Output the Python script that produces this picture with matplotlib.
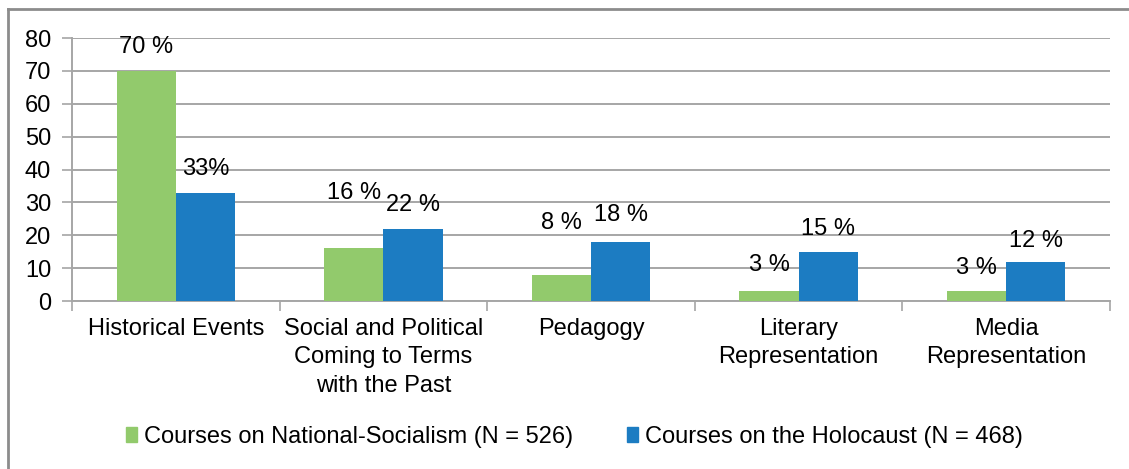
import matplotlib.pyplot as plt
from matplotlib.lines import Line2D
from matplotlib.patches import Patch
import numpy as np

plt.rcParams["font.family"] = ["Liberation Sans", "DejaVu Sans"]

categories = [
    "Historical Events",
    "Social and Political\nComing to Terms\nwith the Past",
    "Pedagogy",
    "Literary\nRepresentation",
    "Media\nRepresentation",
]
ns_values = [70, 16, 8, 3, 3]
holo_values = [33, 22, 18, 15, 12]
ns_labels = ["70 %", "16 %", "8 %", "3 %", "3 %"]
holo_labels = ["33%", "22 %", "18 %", "15 %", "12 %"]
ns_name = "Courses on National-Socialism (N = 526)"
holo_name = "Courses on the Holocaust (N = 468)"

# label offsets above bar top, in pixels (hand-placed in the original)
ns_off = [24, 55, 52, 26, 23]
holo_off = [24, 24, 27, 23, 21]

GREEN = "#92CA6C"
BLUE = "#1C7CC2"
GRID = "#A6A6A6"
FS = 17

fig = plt.figure(figsize=(11.29, 4.69), dpi=100)
ax = fig.add_axes([72 / 1129, 1 - 301 / 469, 1038 / 1129, 263 / 469])

x = np.arange(len(categories))
w = 0.285
ax.bar(x - w / 2, ns_values, w, color=GREEN, zorder=3)
ax.bar(x + w / 2, holo_values, w, color=BLUE, zorder=3)

for i in range(len(categories)):
    ax.annotate(ns_labels[i], (x[i] - w / 2, ns_values[i]), xytext=(0, ns_off[i]),
                textcoords="offset pixels", ha="center", va="center", fontsize=FS)
    ax.annotate(holo_labels[i], (x[i] + w / 2, holo_values[i]), xytext=(0, holo_off[i]),
                textcoords="offset pixels", ha="center", va="center", fontsize=FS)

ax.set_xlim(-0.5, len(categories) - 0.5)
ax.set_ylim(0, 80)
ax.set_yticks(range(0, 81, 10))
ax.yaxis.grid(True, color=GRID, linewidth=1.4, zorder=0)
ax.set_axisbelow(True)

ax.set_xticks(x)
ax.set_xticklabels(categories, fontsize=FS, linespacing=1.4)
ax.tick_params(axis="x", length=0, pad=12)
ax.set_xticks(np.arange(-0.5, len(categories)), minor=True)
ax.tick_params(axis="x", which="minor", length=7, color=GRID, width=1.2)
ax.tick_params(axis="y", length=7, color=GRID, width=1.2, labelsize=FS, pad=8)

for sp in ["top", "right"]:
    ax.spines[sp].set_visible(False)
for sp in ["left", "bottom"]:
    ax.spines[sp].set_color(GRID)
    ax.spines[sp].set_linewidth(1.4)

handles = [Patch(color=GREEN, label=ns_name), Patch(color=BLUE, label=holo_name)]
fig.legend(handles=handles, loc="center", bbox_to_anchor=(0.509, 1 - 437 / 469),
           ncol=2, frameon=False, fontsize=FS, handlelength=0.45, handleheight=0.6,
           handletextpad=0.3, columnspacing=2.3)

# outer chart frame (left and top edges only)
fig.add_artist(Line2D([8 / 1129, 8 / 1129], [0, 1 - 9 / 469], color="#8C8C8C", lw=2,
                      transform=fig.transFigure))
fig.add_artist(Line2D([8 / 1129, 1], [1 - 9 / 469, 1 - 9 / 469], color="#8C8C8C", lw=2,
                      transform=fig.transFigure))

fig.savefig("out.png", dpi=100)
